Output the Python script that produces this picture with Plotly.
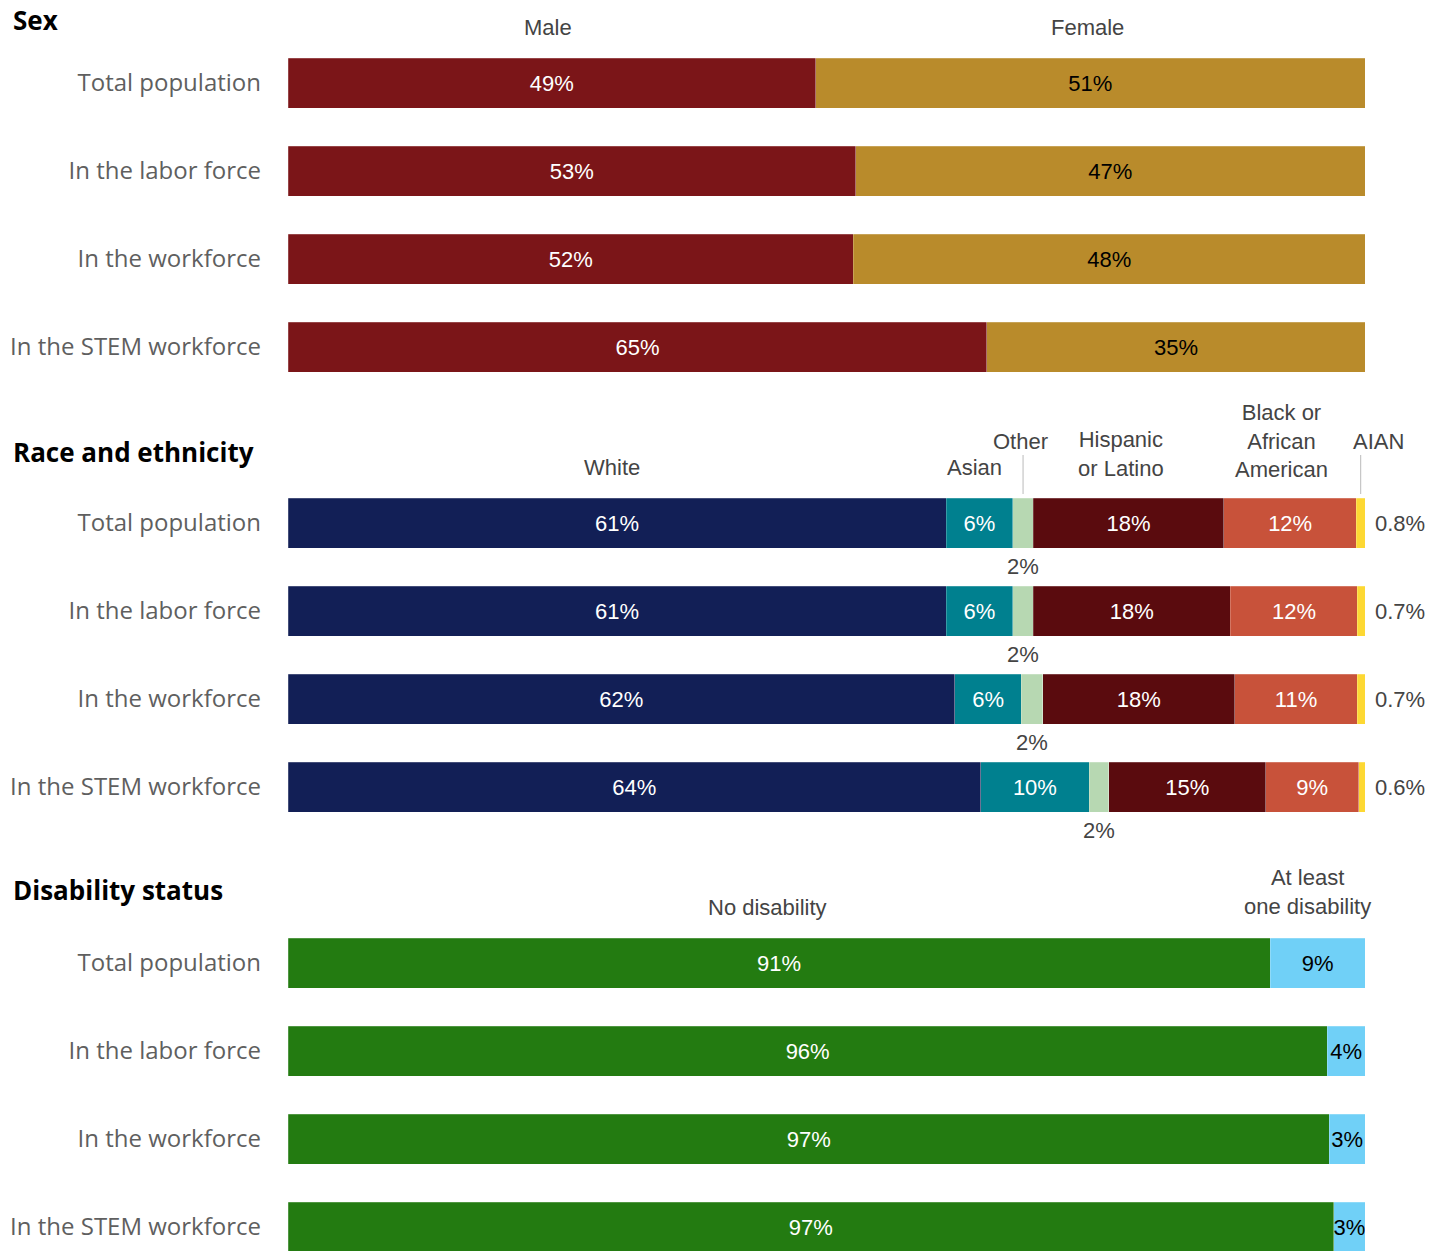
import plotly.graph_objects as go
from plotly.subplots import make_subplots

rows = ["Total population", "In the labor force", "In the workforce", "In the STEM workforce"]

# Sex
male = [49.0, 52.7, 52.5, 64.9]
female = [51.0, 47.3, 47.5, 35.1]
male_lbl = ["49%", "53%", "52%", "65%"]
female_lbl = ["51%", "47%", "48%", "35%"]

# Race and ethnicity
white = [61.1, 61.1, 61.9, 64.3]
asian = [6.2, 6.2, 6.2, 10.1]
other = [1.9, 1.9, 2.0, 1.8]
hispanic = [17.7, 18.3, 17.8, 14.6]
black = [12.3, 11.8, 11.4, 8.6]
aian = [0.8, 0.7, 0.7, 0.6]
white_lbl = ["61%", "61%", "62%", "64%"]
asian_lbl = ["6%", "6%", "6%", "10%"]
other_lbl = ["2%", "2%", "2%", "2%"]
hispanic_lbl = ["18%", "18%", "18%", "15%"]
black_lbl = ["12%", "12%", "11%", "9%"]
aian_lbl = ["0.8%", "0.7%", "0.7%", "0.6%"]

# Disability
no_dis = [91.2, 96.5, 96.7, 97.1]
some_dis = [8.8, 3.5, 3.3, 2.9]
no_dis_lbl = ["91%", "96%", "97%", "97%"]
some_dis_lbl = ["9%", "4%", "3%", "3%"]

W, H = 1445, 1251
LBL_FONT = "Liberation Sans, Arial, sans-serif"
TICK_FONT = "Open Sans, sans-serif"

fig = make_subplots(rows=3, cols=1)

def add(vals, lbls, color, textcolor, row, show_text=True):
    fig.add_trace(go.Bar(
        y=rows, x=vals, orientation="h",
        marker=dict(color=color, line=dict(color="rgba(255,255,255,0.35)", width=0.6)),
        text=lbls if show_text else None,
        textposition="inside" if show_text else "none",
        insidetextanchor="middle",
        textangle=0,
        textfont=dict(family=LBL_FONT, size=22, color=textcolor),
        hoverinfo="skip", showlegend=False,
    ), row=row, col=1)

add(male, male_lbl, "#7B1518", "white", 1)
add(female, female_lbl, "#B98B2B", "black", 1)

add(white, white_lbl, "#121F56", "white", 2)
add(asian, asian_lbl, "#00808F", "white", 2)
add(other, other_lbl, "#B7D8B2", "black", 2, show_text=False)
add(hispanic, hispanic_lbl, "#5A0B0E", "white", 2)
add(black, black_lbl, "#C8523A", "white", 2)
add(aian, aian_lbl, "#FDD833", "black", 2, show_text=False)

add(no_dis, no_dis_lbl, "#237B11", "white", 3)
add(some_dis, some_dis_lbl, "#70D0F7", "black", 3)

def pfrac(px):
    return 1 - px / H

xdom = [288 / W, 1365 / W]
ydoms = [[pfrac(391), pfrac(39)], [pfrac(831), pfrac(479)], [0, pfrac(919)]]
yranges = [[3.5, -0.5], [3.5, -0.5], [-0.5 + 332 / 88, -0.5]]

layout = dict(
    width=W, height=H, margin=dict(l=0, r=0, t=0, b=0),
    paper_bgcolor="white", plot_bgcolor="white",
    barmode="stack", bargap=1 - 50 / 88,
    uniformtext=dict(minsize=22, mode="show"),
)
for i in range(3):
    sx = "" if i == 0 else str(i + 1)
    layout["xaxis" + sx] = dict(domain=xdom, range=[0, 100], visible=False, fixedrange=True)
    layout["yaxis" + sx] = dict(
        domain=ydoms[i], range=yranges[i], type="category",
        categoryorder="array", categoryarray=rows,
        showgrid=False, zeroline=False, showline=False, ticks="",
        ticklabelstandoff=26, fixedrange=True,
        tickfont=dict(family=TICK_FONT, size=24, color="#5f5f5f"),
    )
fig.update_layout(**layout)

anns = []
# panel titles
for txt, py in [("Sex", 20), ("Race and ethnicity", 452), ("Disability status", 890)]:
    anns.append(dict(text="<b>" + txt + "</b>", xref="paper", yref="paper", x=11 / W, y=pfrac(py),
                     xanchor="left", yanchor="middle", showarrow=False,
                     font=dict(family=TICK_FONT, size=26, color="black")))

def mids(series_first):
    out, c = [], 0
    for v in series_first:
        out.append(c + v / 2)
        c += v
    return out

hdr_font = dict(family=LBL_FONT, size=22, color="#444444")

# Sex headers
m = mids([male[0], female[0]])
for txt, xm, dx in zip(["Male", "Female"], m, [-4, -3]):
    anns.append(dict(text=txt, xref="x", yref="y", x=xm, y=-0.5, xshift=dx, yshift=12,
                     xanchor="center", yanchor="middle", showarrow=False, font=hdr_font))

# Race headers
m = mids([white[0], asian[0], other[0], hispanic[0], black[0], aian[0]])
race_hdr = [("White", -5, 12), ("Asian", -5, 12), ("Other", -3, 38),
            ("Hispanic<br>or Latino", -8, 25), ("Black or<br>African<br>American", -9, 38),
            ("AIAN", 18, 38)]
for (txt, dx, dy), xm in zip(race_hdr, m):
    anns.append(dict(text=txt, xref="x2", yref="y2", x=xm, y=-0.5, xshift=dx, yshift=dy,
                     xanchor="center", yanchor="middle", showarrow=False, font=hdr_font))

shapes = []
for idx in (2, 5):
    shapes.append(dict(type="line", xref="x2", yref="paper", x0=m[idx], x1=m[idx],
                       y0=pfrac(455), y1=pfrac(494), line=dict(color="#bbbbbb", width=1)))

# Race outside labels
for i in range(4):
    cum = white[i] + asian[i]
    anns.append(dict(text=other_lbl[i], xref="x2", yref="y2", x=cum + other[i] / 2, y=rows[i],
                     yshift=-43, xanchor="center", yanchor="middle", showarrow=False, font=hdr_font))
    anns.append(dict(text=aian_lbl[i], xref="x2", yref="y2", x=100, y=rows[i], xshift=8,
                     xanchor="left", yanchor="middle", showarrow=False, font=hdr_font))

# Disability headers
m = mids([no_dis[0], some_dis[0]])
for txt, xm, dx, dy in zip(["No disability", "At least<br>one disability"], m, [-12, -10], [11, 27]):
    anns.append(dict(text=txt, xref="x3", yref="y3", x=xm, y=-0.5, xshift=dx, yshift=dy,
                     xanchor="center", yanchor="middle", showarrow=False, font=hdr_font))

fig.update_layout(annotations=anns, shapes=shapes)
fig.write_html("out.html", config={"displayModeBar": False, "staticPlot": True},
               post_script="document.body.style.margin='0';document.body.style.overflow='hidden';")
